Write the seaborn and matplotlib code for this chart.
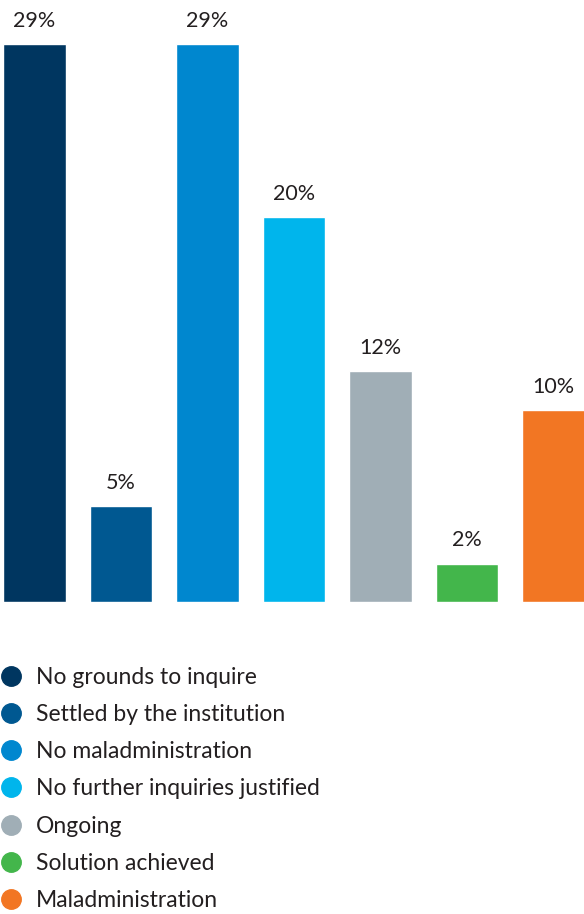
import matplotlib
matplotlib.use("Agg")
import matplotlib.pyplot as plt
from matplotlib.lines import Line2D
import seaborn as sns
import pandas as pd

categories = [
    "No grounds to inquire",
    "Settled by the institution",
    "No maladministration",
    "No further inquiries justified",
    "Ongoing",
    "Solution achieved",
    "Maladministration",
]
shares = [29, 5, 29, 20, 12, 2, 10]
colors = ["#003660", "#005891", "#0087cf", "#00b5ec", "#a0aeb6", "#43b64b", "#f27623"]

sns.set_theme(style="white")
plt.rcParams["font.family"] = ["Lato", "DejaVu Sans"]

df = pd.DataFrame({"category": categories, "share": shares})

fig = plt.figure(figsize=(5.84, 9.14), dpi=100)
W, H = 584, 914
ax = fig.add_axes([0, (H - 602) / H, 1, 602 / H])

sns.barplot(data=df, x="category", y="share", hue="category",
            palette=colors, order=categories, hue_order=categories,
            width=0.728, legend=False, saturation=1, ax=ax)

px_per_bar = 86.5
ax.set_xlim(-34.5 / px_per_bar, (W - 34.5) / px_per_bar)
ax.set_ylim(0, 602 / 19.24)
ax.axis("off")

for i, v in enumerate(shares):
    ax.text(i, v + 0.68, f"{v}%", ha="center", va="bottom",
            fontsize=15.5, color="#231f20")

handles = [Line2D([0], [0], marker="o", linestyle="", markersize=14,
                  markerfacecolor=c, markeredgecolor=c) for c in colors]
fig.legend(handles, categories, loc="upper left",
           bbox_to_anchor=(0.0, 1 - 667 / H), frameon=False,
           fontsize=16.5, labelcolor="#231f20", handlelength=1.0,
           handletextpad=0.55, labelspacing=0.705, borderpad=0,
           borderaxespad=0)

fig.savefig("out.png", dpi=100)
